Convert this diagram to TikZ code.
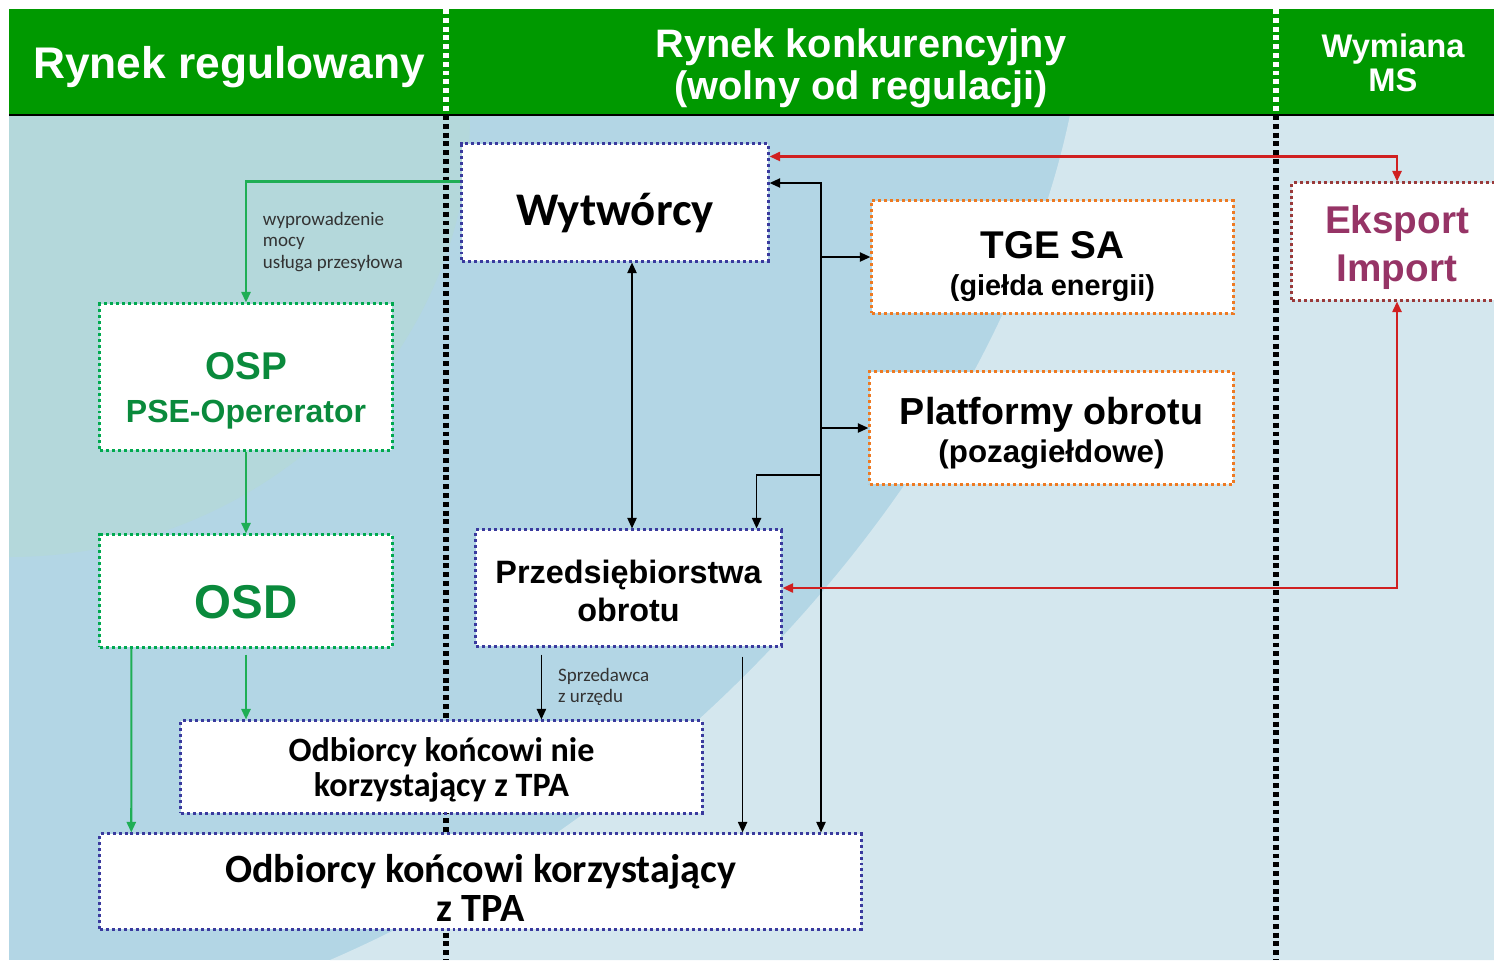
\documentclass[tikz,border=0pt]{standalone}
\usepackage{fontspec}
\setmainfont{Carlito}
\newfontfamily\arl{Liberation Sans}
\usetikzlibrary{calc,arrows.meta}
\newcommand\fsz[2]{\fontsize{#1}{#2}\selectfont}
\newcommand\topgap[1]{\rule{0pt}{#1}}
\definecolor{hdrgreen}{HTML}{009900}
\definecolor{bgteal}{HTML}{B4D8DB}
\definecolor{bgblue}{HTML}{B3D6E5}
\definecolor{bglight}{HTML}{D4E7EE}
\definecolor{boxblue}{HTML}{3A3A9E}
\definecolor{boxgreen}{HTML}{00A94F}
\definecolor{txtgreen}{HTML}{0A8A3C}
\definecolor{boxorange}{HTML}{EE7A22}
\definecolor{boxmaroon}{HTML}{9A3A3A}
\definecolor{txtplum}{HTML}{963466}
\definecolor{arrred}{HTML}{D02020}
\definecolor{arrgreen}{HTML}{1FAE55}

\begin{document}
\begin{tikzpicture}[x=0.01cm,y=-0.01cm,
	>={Triangle[length=3pt,width=2.6pt]},
	box/.style={fill=white,line width=0.85pt,dash pattern=on 0.85pt off 0.85pt,inner sep=0pt,align=center},
	bluebox/.style={box,draw=boxblue},
	greenbox/.style={box,draw=boxgreen,text=txtgreen},
	orangebox/.style={box,draw=boxorange},
	plumbox/.style={box,draw=boxmaroon,text=txtplum},
	divider/.style={line width=1.5pt,dash pattern=on 1.4pt off 1.1pt},
	hdr/.style={text=white,align=center,inner sep=0pt},
	garrow/.style={draw=arrgreen,line width=0.6pt},
	barrow/.style={draw=black,line width=0.5pt},
	rarrow/.style={draw=arrred,line width=0.6pt},
	lbl/.style={font=\fsz{5.4}{6},text=black!80,align=left,inner sep=0pt}]
		%%%%% START %%%%%
		\useasboundingbox (0,0) rectangle (1494,960);
		
		% background
		\fill[bgblue] (9,115) rectangle (1494,960);
		\fill[bgteal] (9,115) -- (9,557) .. controls (263,557) and (470,358) .. (470,115) -- cycle;
		\fill[bglight] (330,960) .. controls (700,800) and (1000,450) .. (1070,115) -- (1494,115) -- (1494,960) -- cycle;
		
		% header
		\fill[hdrgreen] (9,9) rectangle (1494,115);
		\draw[line width=0.6pt] (9,115) -- (1494,115);
		\foreach \x in {446,1276} {
			\draw[divider,white] (\x,9) -- (\x,115);
			\draw[divider] (\x,115) -- (\x,960);
		}
		\node[hdr,font=\arl\bfseries\fsz{12.6}{14}] (hreg) at (229,67) {Rynek regulowany};
		\node[hdr,font=\arl\bfseries\fsz{11.3}{11.9}] (hkon) at (861,68.5) {Rynek konkurencyjny\\(wolny od regulacji)};
		\node[hdr,font=\arl\bfseries\fsz{9.3}{9.7}] (hms) at (1393,63) {Wymiana\\MS};
		
		% boxes
		\node[bluebox,minimum width=3.06cm,minimum height=1.17cm,text height=12.8pt,text depth=0pt,font=\bfseries\fsz{13.3}{16}] (wyt) at (615,202.5) {Wytwórcy};
		\node[orangebox,minimum width=3.61cm,minimum height=1.12cm,font=\arl\bfseries\fsz{8.2}{10.5}] (tge) at (1052.5,257) {{\fsz{11}{10.5}\topgap{12.9pt}TGE SA}\\(giełda energii)};
		\node[orangebox,minimum width=3.63cm,minimum height=1.12cm,font=\arl\bfseries\fsz{8.9}{10.8}] (plat) at (1051.5,428) {{\fsz{10.7}{10.8}\topgap{10.6pt}Platformy obrotu}\\(pozagiełdowe)};
		\node[plumbox,minimum width=2.1cm,minimum height=1.17cm,font=\arl\bfseries\fsz{11}{13.6}] (eksp) at (1397,241.5) {\topgap{11.3pt}Eksport\\Import};
		\node[greenbox,minimum width=2.92cm,minimum height=1.46cm,font=\arl\bfseries\fsz{9.1}{12}] (osp) at (246,377) {{\fsz{11}{12}\topgap{15.5pt}OSP}\\PSE-Opererator};
		\node[greenbox,minimum width=2.92cm,minimum height=1.12cm,text height=15.4pt,text depth=0pt,font=\arl\bfseries\fsz{13.5}{16}] (osd) at (246,591) {OSD};
		\node[bluebox,minimum width=3.05cm,minimum height=1.16cm,font=\arl\bfseries\fsz{9.2}{10.8}] (przed) at (628.5,588) {\topgap{8.3pt}Przedsiębiorstwa\\obrotu};
		\node[bluebox,minimum width=5.21cm,minimum height=0.92cm,font=\bfseries\fsz{9.7}{10}] (odnie) at (441.5,767) {\topgap{8.3pt}Odbiorcy końcowi nie\\korzystający z TPA};
		\node[bluebox,minimum width=7.61cm,minimum height=0.95cm,font=\bfseries\fsz{11.4}{11}] (odtpa) at (480.5,881.5) {\topgap{11.6pt}Odbiorcy końcowi korzystający\\z TPA};
		
		% green arrows
		\draw[garrow,->] ($(wyt.north west)+(0,39)$) -| (osp.north)
			node[pos=0.75,right=4.5pt,lbl] (wypr) {wyprowadzenie\\mocy\\usługa przesyłowa};
		\draw[garrow,->] (osp) -- (osd);
		\draw[garrow,->] ($(osd.south west)+(33,0)$) -- ($(odtpa.north west)+(33,0)$);
		\draw[garrow,->] ($(osd.south)+(0,6)$) -- (osd.south |- odnie.north);
		
		% black arrows
		\coordinate (bus) at (821,183);
		\draw[barrow,<->] (wyt.east |- bus) -- (bus) -- (bus |- odtpa.north);
		\draw[barrow,->] (bus |- tge.west) -- (tge.west);
		\draw[barrow,->] (bus |- plat.west) -- (plat.west);
		\draw[barrow,->] (bus |- 0,475) -| ($(przed.north east)+(-26,0)$);
		\draw[barrow,<->] ($(wyt.south)+(17,0)$) -- ($(przed.north)+(3.5,0)$);
		\draw[barrow,->] ($(przed.south east)+(-40,9)$) coordinate (p1) -- (p1 |- odtpa.north);
		\draw[barrow,->] ($(przed.south west)+(67,7)$) coordinate (p2) -- (p2 |- odnie.north)
			node[midway,right=4.5pt,lbl] (sprz) {Sprzedawca\\z urzędu};
		
		% red arrows
		\draw[rarrow,<->] ($(wyt.north east)+(0,14)$) -| (eksp.north);
		\draw[rarrow,<->] (eksp.south) |- (przed.east);
		%%%%% END %%%%%
\end{tikzpicture}
\end{document}
